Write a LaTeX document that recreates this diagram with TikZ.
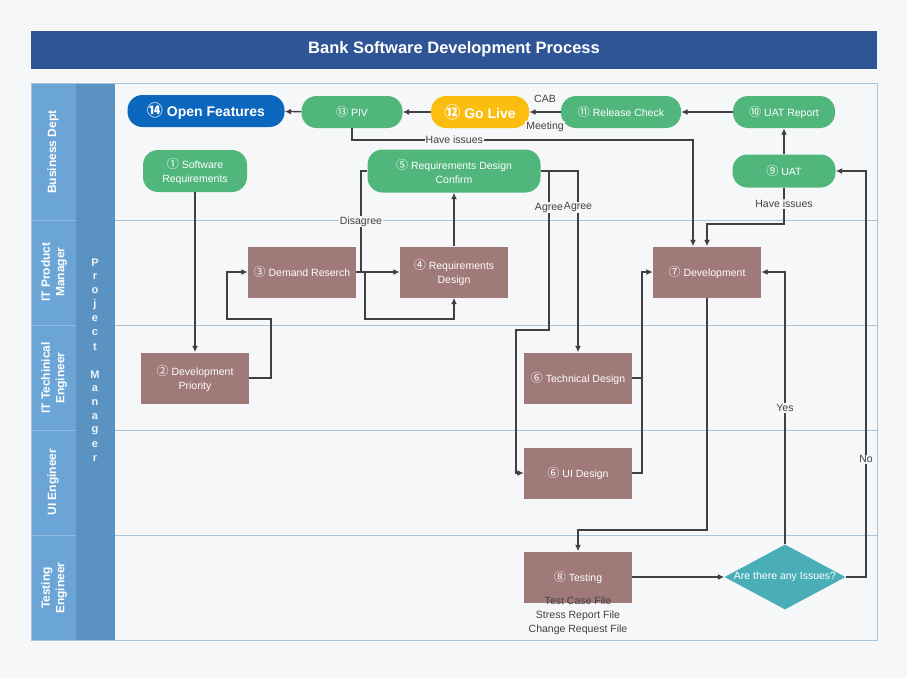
\documentclass[tikz,border=0pt]{standalone}
\usepackage{fontspec}
\setmainfont{Liberation Sans}
\newfontfamily\cjk[Scale=1.15]{Noto Sans CJK SC}
\usetikzlibrary{arrows.meta,shapes.geometric}
\definecolor{bgcol}{HTML}{F6F7F8}
\definecolor{titleblue}{HTML}{2F5597}
\definecolor{lanecol}{HTML}{6AA5D6}
\definecolor{pmcol}{HTML}{5A93C2}
\definecolor{gridcol}{HTML}{A9C3DA}
\definecolor{stepgreen}{HTML}{50B67C}
\definecolor{stepbrown}{HTML}{A07979}
\definecolor{featblue}{HTML}{0B66BD}
\definecolor{liveyellow}{HTML}{FBBD0E}
\definecolor{checkteal}{HTML}{4AAEB8}
\definecolor{linecol}{HTML}{404040}
\newcommand{\cn}[1]{{\cjk #1}}

\begin{document}
\begin{tikzpicture}[x=1pt,y=-1pt]
    \tikzstyle{every node}=[font=\fontsize{10.5}{14}\selectfont]
    \tikzstyle{bizstep}=[fill=stepgreen, text=white, rounded corners=15pt, inner sep=0pt, align=center, minimum height=32pt]
    \tikzstyle{bigstep}=[bizstep, font=\fontsize{14}{16}\selectfont\bfseries]
    \tikzstyle{itstep}=[fill=stepbrown, text=white, inner sep=0pt, align=center, minimum width=108pt, minimum height=51pt]
    \tikzstyle{check}=[diamond, fill=checkteal, inner sep=0pt, minimum width=121pt, minimum height=65pt]
    \tikzstyle{lanetitle}=[rotate=90, text=white, align=center, font=\fontsize{12}{14.5}\selectfont\bfseries]
    \tikzstyle{pmletter}=[text=white!90!pmcol, font=\fontsize{11}{12}\selectfont\bfseries]
    \tikzstyle{flow}=[draw=linecol, line width=1.3pt, -{Latex[length=6.5pt,width=6pt]}]
    \tikzstyle{tag}=[fill=bgcol, text=linecol, inner sep=1pt]
    \fill[bgcol] (0,0) rectangle (907,678);
    \useasboundingbox (0,0) rectangle (907,678);
    % title bar
    \fill[titleblue] (31,31) rectangle (877,69);
    \node[text=white, font=\fontsize{16.5}{20}\selectfont\bfseries] (title) at (454,49) {Bank Software Development Process};
    % swimlanes
    \fill[lanecol] (31,83) rectangle (76,640);
    \fill[pmcol] (76,83) rectangle (115,640);
    \foreach \y in {220,325,430,535} {
      \draw[gridcol, line width=0.8pt] (115,\y) -- (877,\y);
      \draw[white!25!lanecol, line width=0.6pt] (31,\y) -- (76,\y);
    }
    \draw[gridcol, line width=0.8pt] (31,83) rectangle (877,640);
    \node[lanetitle] (lane1) at (53,152) {Business Dept};
    \node[lanetitle] (lane2) at (54,272) {IT Product\\Manager};
    \node[lanetitle] (lane3) at (54,378) {IT Techinical\\Engineer};
    \node[lanetitle] (lane4) at (53,482) {UI Engineer};
    \node[lanetitle] (lane5) at (54,588) {Testing\\Engineer};
    \foreach \c [count=\i] in {P,r,o,j,e,c,t}
      \node[pmletter] (pj\i) at (95,{249+14*\i}) {\c};
    \foreach \c [count=\i] in {M,a,n,a,g,e,r}
      \node[pmletter] (mg\i) at (95,{361+14*\i}) {\c};
    % steps
    \node[bigstep, fill=featblue, minimum width=157pt] (open) at (206,111) {\cn{⑭} Open Features};
    \node[bizstep, minimum width=101pt] (piv) at (352,112) {\cn{⑬} PIV};
    \node[bigstep, fill=liveyellow, minimum width=98pt] (live) at (480,112) {\cn{⑫} Go Live};
    \node[bizstep, minimum width=120pt] (release) at (621,112) {\cn{⑪} Release Check};
    \node[bizstep, minimum width=102pt] (report) at (784,112) {\cn{⑩} UAT Report};
    \node[bizstep, minimum width=104pt, minimum height=42pt] (softreq) at (195,171) {\cn{①} Software\\Requirements};
    \node[bizstep, minimum width=173pt, minimum height=43pt] (confirm) at (454,171) {\cn{⑤} Requirements Design\\Confirm};
    \node[bizstep, minimum width=103pt, minimum height=33pt] (uat) at (784,171) {\cn{⑨} UAT};
    \node[itstep] (research) at (302,272) {\cn{③} Demand Reserch};
    \node[itstep] (reqdesign) at (454,272) {\cn{④} Requirements\\Design};
    \node[itstep] (develop) at (707,272) {\cn{⑦} Development};
    \node[itstep] (priority) at (195,378) {\cn{②} Development\\Priority};
    \node[itstep] (techdesign) at (578,378) {\cn{⑥} Technical Design};
    \node[itstep] (uidesign) at (578,473) {\cn{⑥} UI Design};
    \node[itstep] (testing) at (578,577) {\cn{⑧} Testing};
    \node[text=linecol, align=center] (testfiles) at (578,616) {Test Case File\\Stress Report File\\Change Request File};
    \node[check, label={[text=white]center:Are there any Issues?}] (issues) at (785,577) {};
    % connectors
    \coordinate (hi) at (693,140);
    \coordinate (agree) at (549,171);
    \draw[flow] (report) -- (release);
    \draw[flow] (release) -- (live)
      node[tag, midway, yshift=13pt] {CAB}
      node[tag, midway, yshift=-15pt] {Meeting};
    \draw[flow] (live) -- (piv);
    \draw[flow] (piv) -- (open);
    \draw[flow] (piv.south) |- node[tag, pos=0.65] {Have issues} (hi) -- (hi |- develop.north);
    \draw[flow] (uat) -- (report);
    \draw[flow] (uat.south) |- node[tag, pos=0.22] {Have issues} (develop.north |- 0,224) -- (develop.north);
    \draw[flow] (softreq) -- (priority);
    \draw[flow] (priority.east) -- (271,378) -- (271,319) -- (227,319) |- (research.west);
    \draw[flow] (research) -- (reqdesign);
    \draw[flow] (confirm.west) -- (361,171) -- node[tag] {Disagree} (361,272) -- (365,272) -- (365,319) -| (reqdesign.south);
    \draw[flow] (reqdesign) -- (confirm);
    \draw[flow] (confirm.east) -| node[tag, pos=0.6] {Agree} (techdesign.north);
    \draw[flow] (agree) -- node[tag, pos=0.23] {Agree} (549,330) -- (516,330) |- (uidesign.west);
    \draw[flow] (techdesign.east) -- (642,378) |- (develop.west);
    \draw[draw=linecol, line width=1.3pt] (uidesign.east) -- (642,473) -- (642,378);
    \draw[flow] (develop.south) -- (develop.south |- 0,530) -| (testing.north);
    \draw[flow] (testing) -- (issues);
    \draw[flow] (issues.north) |- node[tag, pos=0.25] {Yes} (develop.east);
    \draw[flow] (issues.east) -- (866,577) -- node[tag, pos=0.29] {No} (866,171) -- (uat.east);
\end{tikzpicture}
\end{document}
